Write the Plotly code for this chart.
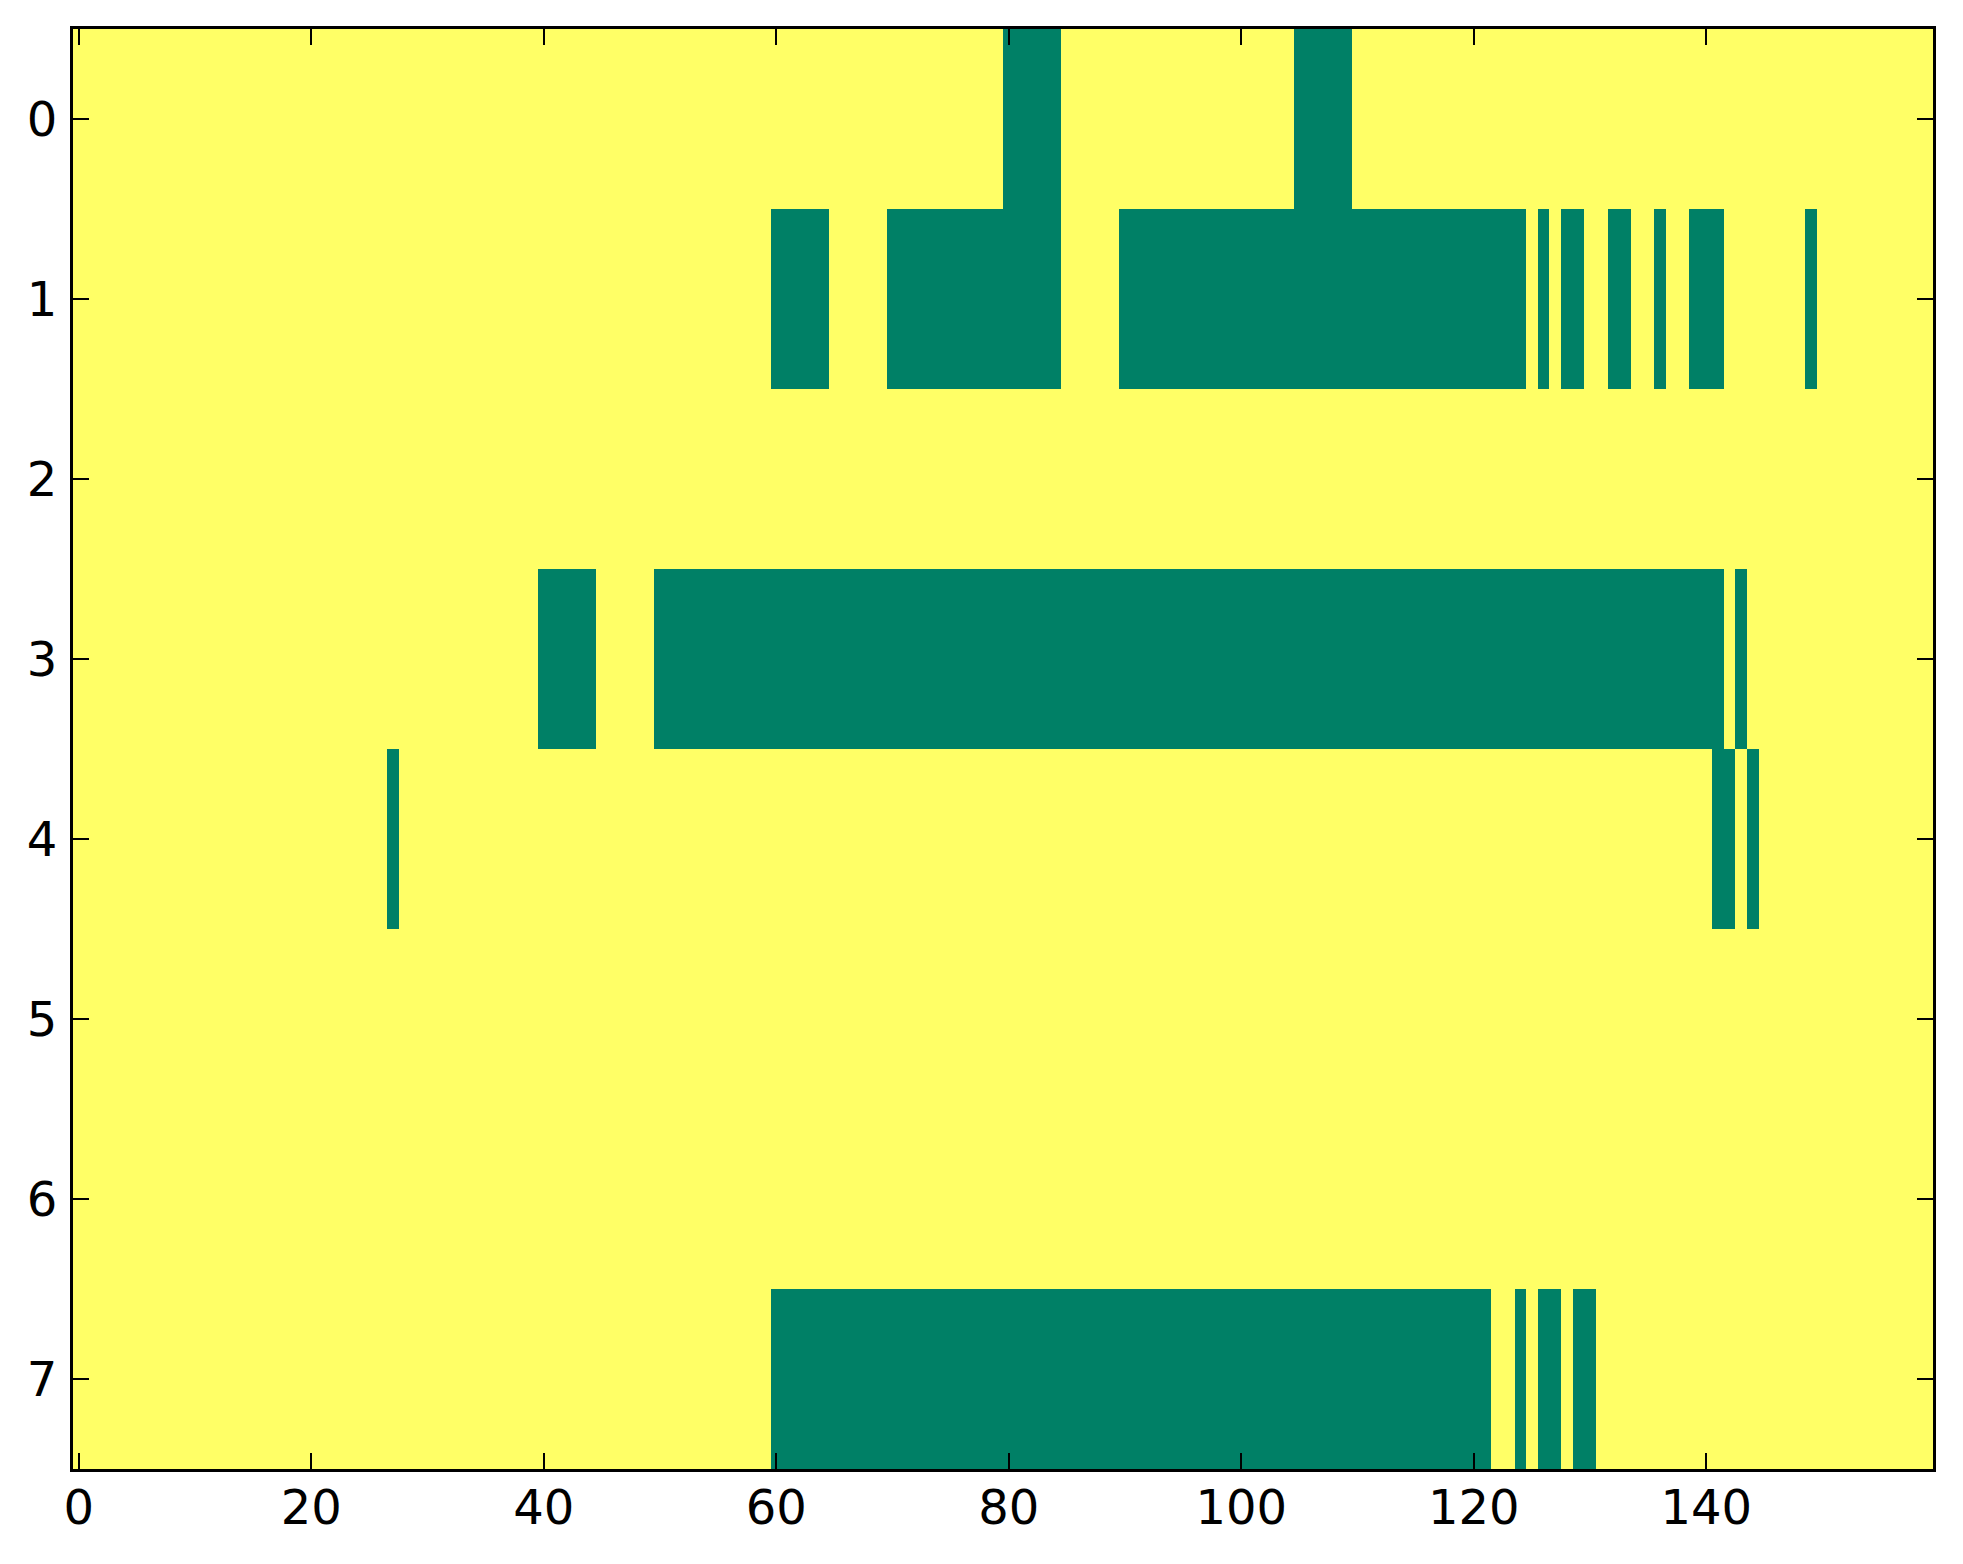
import plotly.graph_objects as go

# Green (value 0) runs per row, as inclusive column ranges; all other cells are 1 (yellow)
n_rows = 8
n_cols = 160
row0_runs = [(80, 84), (105, 109)]
row1_runs = [(60, 64), (70, 84), (90, 124), (126, 126), (128, 129), (132, 133),
             (136, 136), (139, 141), (149, 149)]
row2_runs = []
row3_runs = [(40, 44), (50, 141), (143, 143)]
row4_runs = [(27, 27), (141, 142), (144, 144)]
row5_runs = []
row6_runs = []
row7_runs = [(60, 121), (124, 124), (126, 127), (129, 130)]

x_ticks = [0, 20, 40, 60, 80, 100, 120, 140]
y_ticks = [0, 1, 2, 3, 4, 5, 6, 7]

all_runs = [row0_runs, row1_runs, row2_runs, row3_runs,
            row4_runs, row5_runs, row6_runs, row7_runs]
z = []
for runs in all_runs:
    row = [1] * n_cols
    for a, b in runs:
        for c in range(a, b + 1):
            row[c] = 0
    z.append(row)

fig = go.Figure(go.Heatmap(
    z=z, x=list(range(n_cols)), y=list(range(n_rows)),
    zmin=0, zmax=1,
    colorscale=[[0, "#008066"], [1, "#FFFF66"]],
    showscale=False,
))

FONT = "DejaVu Sans, Verdana, sans-serif"
axis_common = dict(
    showline=True, linecolor="black", linewidth=3, mirror="ticks",
    ticks="inside", ticklen=16, tickwidth=2, tickcolor="black",
    showgrid=False, zeroline=False,
    tickfont=dict(family=FONT, size=48, color="black"),
)
fig.update_xaxes(range=[-0.5, 159.5], tickvals=x_ticks, ticklabelstandoff=-6, **axis_common)
fig.update_yaxes(range=[7.5, -0.5], tickvals=y_ticks, ticklabelstandoff=3, **axis_common)

# page body has an 8px margin, so the figure is shifted by 8px right and down
fig.update_layout(
    width=1955, height=1556,
    margin=dict(l=65, r=30, t=21, b=95),
    font=dict(family=FONT, size=48, color="black"),
    paper_bgcolor="white", plot_bgcolor="white",
)
fig.write_html("out.html")
